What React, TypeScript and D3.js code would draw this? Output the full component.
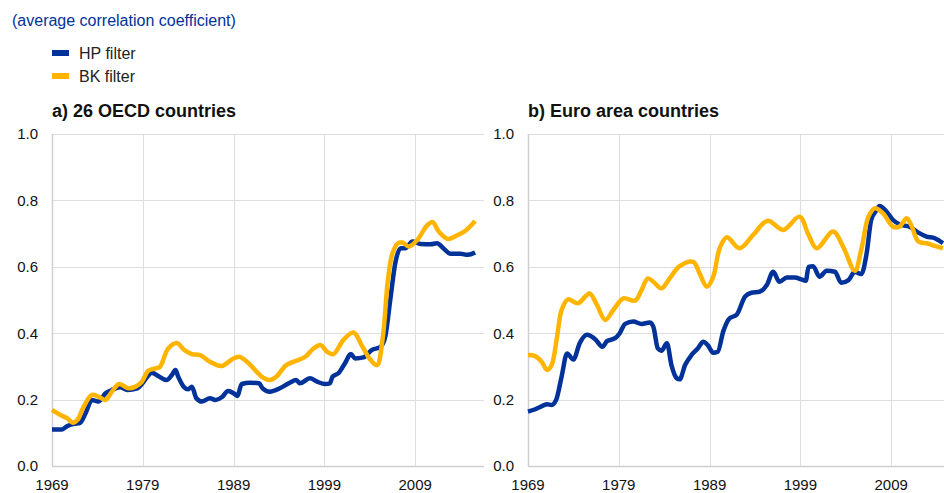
import React, { useEffect, useRef } from 'react';
import * as d3 from 'd3';

// [decimal year, average correlation coefficient]
const oecdHP: [number, number][] = [
  [1969.0, 0.11], [1970.1, 0.11], [1970.65, 0.12], [1971.4, 0.127], [1972.1, 0.13], [1972.7, 0.159],
  [1973.4, 0.199], [1974.1, 0.194], [1974.9, 0.219], [1975.6, 0.229], [1976.5, 0.237], [1977.3, 0.229],
  [1978.4, 0.234], [1978.9, 0.247], [1979.5, 0.269], [1980.0, 0.281], [1980.7, 0.271], [1981.6, 0.259],
  [1982.2, 0.274], [1982.6, 0.289], [1982.9, 0.269], [1983.5, 0.239], [1984.0, 0.231], [1984.4, 0.239],
  [1984.9, 0.204], [1985.5, 0.194], [1986.4, 0.204], [1987.0, 0.199], [1987.7, 0.207], [1988.4, 0.226],
  [1989.0, 0.219], [1989.4, 0.211], [1989.9, 0.247], [1990.8, 0.251], [1991.8, 0.249], [1992.2, 0.234],
  [1993.0, 0.224], [1994.1, 0.234], [1995.2, 0.251], [1995.9, 0.259], [1996.3, 0.249], [1997.4, 0.264],
  [1998.2, 0.254], [1999.1, 0.247], [1999.6, 0.249], [1999.9, 0.269], [2000.6, 0.281], [2001.3, 0.311],
  [2001.9, 0.337], [2002.4, 0.324], [2003.3, 0.327], [2004.2, 0.349], [2005.2, 0.359], [2005.7, 0.389],
  [2006.3, 0.51], [2006.8, 0.61], [2007.4, 0.656], [2007.9, 0.656], [2008.7, 0.676], [2009.6, 0.669],
  [2010.7, 0.668], [2011.4, 0.671], [2012.1, 0.656], [2012.9, 0.639], [2014.0, 0.639], [2014.8, 0.636],
  [2015.6, 0.643]
];

const oecdBK: [number, number][] = [
  [1969.0, 0.169], [1969.9, 0.154], [1970.65, 0.144], [1971.3, 0.13], [1971.8, 0.139], [1972.5, 0.179],
  [1973.4, 0.214], [1974.1, 0.209], [1974.9, 0.199], [1975.6, 0.224], [1976.4, 0.247], [1977.4, 0.234],
  [1978.2, 0.239], [1978.9, 0.254], [1979.6, 0.287], [1980.4, 0.294], [1980.9, 0.299], [1981.8, 0.354],
  [1982.8, 0.37], [1983.5, 0.351], [1984.4, 0.337], [1985.3, 0.334], [1986.4, 0.314], [1987.7, 0.301],
  [1988.8, 0.321], [1989.6, 0.329], [1990.6, 0.311], [1991.5, 0.285], [1992.2, 0.267], [1993.0, 0.259],
  [1993.7, 0.269], [1994.8, 0.304], [1995.9, 0.317], [1996.9, 0.329], [1997.8, 0.354], [1998.6, 0.364],
  [1999.3, 0.344], [2000.0, 0.337], [2001.1, 0.38], [2002.2, 0.402], [2003.2, 0.359], [2004.1, 0.319],
  [2004.8, 0.304], [2005.4, 0.38], [2006.0, 0.56], [2006.5, 0.641], [2007.1, 0.671], [2007.6, 0.673],
  [2008.3, 0.661], [2009.3, 0.683], [2010.2, 0.721], [2010.9, 0.735], [2011.6, 0.706], [2012.6, 0.684],
  [2013.7, 0.696], [2014.5, 0.708], [2015.6, 0.738]
];

const euroHP: [number, number][] = [
  [1969.0, 0.164], [1969.8, 0.171], [1970.3, 0.177], [1971.1, 0.186], [1971.6, 0.184], [1972.1, 0.199],
  [1972.7, 0.269], [1973.3, 0.339], [1974.0, 0.321], [1974.7, 0.37], [1975.5, 0.395], [1976.4, 0.382],
  [1977.2, 0.359], [1977.7, 0.376], [1978.6, 0.385], [1979.1, 0.4], [1979.7, 0.428], [1980.6, 0.435],
  [1981.5, 0.428], [1982.4, 0.432], [1982.8, 0.42], [1983.3, 0.354], [1983.7, 0.347], [1984.3, 0.37],
  [1984.8, 0.304], [1985.4, 0.264], [1985.7, 0.261], [1986.3, 0.304], [1987.0, 0.334], [1987.7, 0.354],
  [1988.3, 0.374], [1988.8, 0.364], [1989.4, 0.341], [1989.9, 0.344], [1990.5, 0.405], [1991.2, 0.445],
  [1991.97, 0.455], [1992.9, 0.51], [1993.6, 0.522], [1994.5, 0.525], [1995.3, 0.545], [1996.0, 0.585],
  [1996.7, 0.555], [1997.5, 0.568], [1998.4, 0.568], [1999.1, 0.562], [1999.6, 0.558], [1999.9, 0.6],
  [2000.4, 0.602], [2001.1, 0.57], [2001.9, 0.588], [2002.8, 0.585], [2003.5, 0.552], [2004.3, 0.56],
  [2005.0, 0.585], [2005.7, 0.578], [2006.3, 0.641], [2006.8, 0.741], [2007.4, 0.771], [2007.7, 0.783],
  [2008.5, 0.766], [2009.2, 0.741], [2010.1, 0.726], [2011.0, 0.721], [2012.0, 0.703], [2012.9, 0.691],
  [2013.8, 0.686], [2014.7, 0.671]
];

const euroBK: [number, number][] = [
  [1969.0, 0.334], [1969.8, 0.331], [1970.5, 0.314], [1971.1, 0.289], [1971.6, 0.304], [1972.2, 0.389],
  [1972.7, 0.47], [1973.4, 0.502], [1974.5, 0.49], [1975.3, 0.51], [1975.8, 0.52], [1976.6, 0.485],
  [1977.5, 0.44], [1978.4, 0.47], [1979.5, 0.505], [1980.8, 0.498], [1981.5, 0.53], [1982.2, 0.565],
  [1982.8, 0.555], [1983.7, 0.535], [1984.6, 0.565], [1985.7, 0.602], [1987.2, 0.615], [1987.9, 0.58],
  [1988.7, 0.54], [1989.4, 0.57], [1990.1, 0.655], [1990.9, 0.689], [1992.3, 0.656], [1993.8, 0.696],
  [1995.4, 0.739], [1997.1, 0.711], [1998.9, 0.751], [1999.9, 0.696], [2000.8, 0.656], [2002.6, 0.706],
  [2003.7, 0.661], [2005.0, 0.588], [2005.7, 0.651], [2006.5, 0.751], [2007.2, 0.776], [2008.1, 0.761],
  [2009.2, 0.721], [2009.9, 0.721], [2010.7, 0.746], [2011.2, 0.726], [2012.0, 0.676], [2012.9, 0.671],
  [2013.8, 0.663], [2014.7, 0.656]
];

const xTicks = [1969, 1979, 1989, 1999, 2009];
const yTicks = [0, 0.2, 0.4, 0.6, 0.8, 1.0];
const seriesNames = ['HP filter', 'BK filter'];
const seriesColors = ['#003299', '#ffb400'];
const panelTitles = ['a) 26 OECD countries', 'b) Euro area countries'];
const panels = [[oecdHP, oecdBK], [euroHP, euroBK]];

const FONT = "Arial, 'Liberation Sans', sans-serif";

const App: React.FC = () => {
  const svgRef = useRef<SVGSVGElement>(null);

  useEffect(() => {
    if (!svgRef.current) return;
    const svg = d3.select(svgRef.current);
    svg.selectAll('*').remove();

    const plotTop = 134;
    const plotBottom = 466;
    const plotWidth = 432; // right panel runs off the page, as in the original
    const panelLefts = [52, 528];

    svg.append('text')
      .attr('x', 12)
      .attr('y', 26)
      .style('font-family', FONT)
      .style('font-size', '16px')
      .style('fill', '#003299')
      .text('(average correlation coefficient)');

    // legend
    seriesNames.forEach((name, i) => {
      const ly = 53 + i * 23;
      svg.append('rect')
        .attr('x', 52)
        .attr('y', ly - 3)
        .attr('width', 17)
        .attr('height', 6)
        .attr('fill', seriesColors[i]);
      svg.append('text')
        .attr('x', 79)
        .attr('y', ly)
        .attr('dy', '0.36em')
        .style('font-family', FONT)
        .style('font-size', '16px')
        .style('fill', '#222')
        .text(name);
    });

    const y = d3.scaleLinear().domain([0, 1]).range([plotBottom, plotTop]);

    panels.forEach((series, p) => {
      const left = panelLefts[p];
      const x = d3.scaleLinear().domain([1969, 2016.58]).range([left, left + plotWidth]);
      const g = svg.append('g');

      g.append('text')
        .attr('x', left)
        .attr('y', 117)
        .style('font-family', FONT)
        .style('font-size', '18px')
        .style('font-weight', 700)
        .style('fill', '#111')
        .text(panelTitles[p]);

      // horizontal grid
      g.selectAll('.hgrid')
        .data(yTicks)
        .enter()
        .append('line')
        .attr('x1', left)
        .attr('x2', left + plotWidth)
        .attr('y1', d => Math.round(y(d)) + 0.5)
        .attr('y2', d => Math.round(y(d)) + 0.5)
        .attr('stroke', d => (d === 0 ? '#d0d0d0' : '#dedede'))
        .attr('stroke-width', d => (d === 0 ? 1.5 : 1));

      // vertical grid
      g.selectAll('.vgrid')
        .data(xTicks)
        .enter()
        .append('line')
        .attr('x1', d => Math.round(x(d)) + 0.5)
        .attr('x2', d => Math.round(x(d)) + 0.5)
        .attr('y1', plotTop)
        .attr('y2', plotBottom)
        .attr('stroke', d => (d === 1969 ? '#d0d0d0' : '#dedede'))
        .attr('stroke-width', d => (d === 1969 ? 1.5 : 1));

      g.selectAll('.ylab')
        .data(yTicks)
        .enter()
        .append('text')
        .attr('x', left - 14)
        .attr('y', d => y(d))
        .attr('dy', '0.36em')
        .attr('text-anchor', 'end')
        .style('font-family', FONT)
        .style('font-size', '15px')
        .style('fill', '#111')
        .text(d => d.toFixed(1));

      g.selectAll('.xlab')
        .data(xTicks)
        .enter()
        .append('text')
        .attr('x', d => x(d))
        .attr('y', 490)
        .attr('text-anchor', 'middle')
        .style('font-family', FONT)
        .style('font-size', '15px')
        .style('fill', '#111')
        .text(d => String(d));

      const hpLine = d3.line<[number, number]>()
        .x(d => x(d[0]))
        .y(d => y(d[1]))
        .curve(d3.curveMonotoneX);

      const bkLine = d3.line<[number, number]>()
        .x(d => x(d[0]))
        .y(d => y(d[1]))
        .curve(d3.curveCatmullRom.alpha(0.5));

      g.append('path')
        .datum(series[0])
        .attr('d', hpLine)
        .attr('fill', 'none')
        .attr('stroke', seriesColors[0])
        .attr('stroke-width', 4.5)
        .attr('stroke-linejoin', 'round');

      g.append('path')
        .datum(series[1])
        .attr('d', bkLine)
        .attr('fill', 'none')
        .attr('stroke', seriesColors[1])
        .attr('stroke-width', 4.5)
        .attr('stroke-linejoin', 'round');
    });
  }, []);

  return (
    <svg
      ref={svgRef}
      width={944}
      height={493}
      style={{ position: 'absolute', left: 0, top: 0, background: '#fff' }}
    />
  );
};

export default App;
